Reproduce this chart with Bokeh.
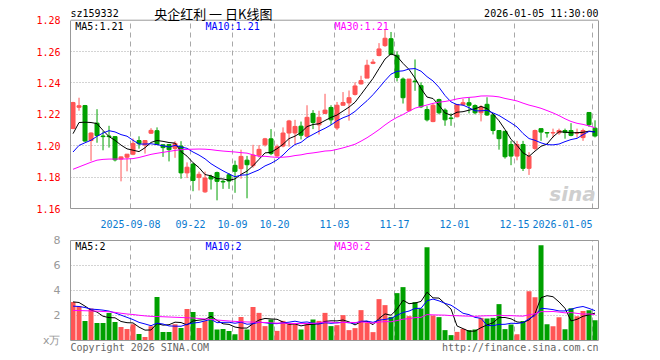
from bokeh.plotting import figure
from bokeh.models import (Range1d, FixedTicker, Grid, Label, ColumnDataSource, LinearAxis,
                          NumeralTickFormatter, Span)
from bokeh.layouts import column
from bokeh.embed import file_html
from bokeh.resources import INLINE

# ---------------- data ----------------
opens = [1.2110, 1.2245, 1.2256, 1.2033, 1.2144, 1.2062, 1.2062, 1.2058, 1.1915, 1.1927,
         1.1946, 1.2033, 1.2004, 1.2080, 1.2096, 1.2006, 1.2008, 1.1983, 1.1998, 1.1827,
         1.1883, 1.1797, 1.1706, 1.1804, 1.1829, 1.1773, 1.1815, 1.1875, 1.1854, 1.1908,
         1.1873, 1.1940, 1.2006, 1.2044, 1.1935, 1.1998, 1.2081, 1.2081, 1.2125, 1.2060,
         1.2206, 1.2133, 1.2206, 1.2244, 1.2113, 1.2258, 1.2273, 1.2327, 1.2394, 1.2431,
         1.2525, 1.2575, 1.2638, 1.2682, 1.2577, 1.2425, 1.2223, 1.2412, 1.2383, 1.2231,
         1.2154, 1.2294, 1.2227, 1.2177, 1.2185, 1.2262, 1.2274, 1.2256, 1.2210, 1.2264,
         1.2196, 1.2097, 1.2092, 1.2008, 1.1934, 1.2008, 1.1856, 1.1983, 1.2109, 1.2084,
         1.2081, 1.2082, 1.2097, 1.2097, 1.2080, 1.2052, 1.2212, 1.2112]
highs = [1.2280, 1.2306, 1.2260, 1.2085, 1.2233, 1.2092, 1.2127, 1.2062, 1.1932, 1.1948,
         1.2046, 1.2060, 1.2036, 1.2112, 1.2117, 1.2008, 1.2010, 1.2029, 1.2029, 1.1894,
         1.1890, 1.1835, 1.1835, 1.1815, 1.1835, 1.1783, 1.1825, 1.1905, 1.1975, 1.1935,
         1.2006, 1.2004, 1.2050, 1.2106, 1.2008, 1.2117, 1.2165, 1.2165, 1.2154, 1.2258,
         1.2227, 1.2223, 1.2331, 1.2258, 1.2279, 1.2342, 1.2352, 1.2404, 1.2446, 1.2548,
         1.2552, 1.2654, 1.2740, 1.2725, 1.2602, 1.2435, 1.2425, 1.2550, 1.2404, 1.2252,
         1.2269, 1.2300, 1.2238, 1.2206, 1.2265, 1.2299, 1.2309, 1.2264, 1.2258, 1.2309,
         1.2206, 1.2097, 1.2092, 1.2031, 1.2031, 1.2031, 1.1959, 1.2103, 1.2109, 1.2087,
         1.2109, 1.2109, 1.2109, 1.2144, 1.2109, 1.2109, 1.2215, 1.2162]
lows = [1.2105, 1.2223, 1.2025, 1.1904, 1.2019, 1.1971, 1.1988, 1.1900, 1.1773, 1.1837,
        1.1940, 1.1981, 1.1950, 1.2075, 1.2005, 1.1929, 1.1900, 1.1923, 1.1790, 1.1794,
        1.1710, 1.1715, 1.1700, 1.1721, 1.1652, 1.1725, 1.1725, 1.1700, 1.1790, 1.1665,
        1.1860, 1.1925, 1.1995, 1.1940, 1.1930, 1.1990, 1.1994, 1.2008, 1.2040, 1.2050,
        1.2106, 1.2071, 1.2202, 1.2133, 1.2100, 1.2256, 1.2160, 1.2320, 1.2390, 1.2431,
        1.2520, 1.2570, 1.2630, 1.2578, 1.2410, 1.2269, 1.2220, 1.2350, 1.2240, 1.2155,
        1.2150, 1.2200, 1.2127, 1.2127, 1.2180, 1.2255, 1.2206, 1.2200, 1.2155, 1.2190,
        1.2072, 1.1975, 1.1918, 1.1876, 1.1907, 1.1839, 1.1814, 1.1970, 1.2031, 1.2052,
        1.2052, 1.2070, 1.2045, 1.2060, 1.2052, 1.2031, 1.2120, 1.2053]
closes = [1.2275, 1.2255, 1.2030, 1.2081, 1.2065, 1.2058, 1.2058, 1.1910, 1.1929, 1.1946,
          1.2015, 1.2013, 1.2033, 1.2098, 1.2008, 1.1988, 1.1975, 1.2015, 1.1827, 1.1863,
          1.1779, 1.1818, 1.1794, 1.1788, 1.1773, 1.1769, 1.1775, 1.1837, 1.1932, 1.1879,
          1.1940, 1.1977, 1.2044, 1.1950, 1.1994, 1.2081, 1.2158, 1.2123, 1.2067, 1.2181,
          1.2148, 1.2181, 1.2227, 1.2165, 1.2258, 1.2275, 1.2306, 1.2381, 1.2415, 1.2513,
          1.2533, 1.2617, 1.2685, 1.2581, 1.2435, 1.2306, 1.2425, 1.2408, 1.2248, 1.2165,
          1.2258, 1.2210, 1.2165, 1.2173, 1.2263, 1.2274, 1.2258, 1.2210, 1.2247, 1.2196,
          1.2097, 1.2045, 1.1930, 1.1934, 1.2008, 1.1856, 1.1934, 1.2097, 1.2087, 1.2081,
          1.2084, 1.2097, 1.2084, 1.2066, 1.2084, 1.2097, 1.2134, 1.2062]
volumes = [3.09, 2.75, 1.57, 2.56, 1.41, 1.41, 2.21, 1.49, 1.09, 0.93,
           1.31, 0.53, 0.29, 1.15, 3.49, 0.69, 0.69, 1.31, 1.01, 2.53,
           2.29, 1.01, 1.57, 2.29, 0.88, 0.93, 0.77, 0.51, 1.89, 0.88,
           2.69, 2.21, 1.15, 1.68, 0.77, 1.57, 1.31, 1.31, 0.88, 1.28,
           1.68, 1.57, 2.21, 1.15, 1.23, 2.03, 0.83, 0.99, 2.43, 1.41,
           0.67, 3.31, 2.83, 1.89, 3.79, 4.27, 1.95, 3.07, 2.56, 7.47,
           2.00, 1.87, 0.83, 0.43, 0.69, 0.93, 0.83, 0.88, 1.81, 1.76,
           1.81, 2.91, 0.91, 1.28, 0.51, 1.57, 3.95, 3.47, 7.63, 1.31,
           1.15, 1.87, 0.91, 2.59, 1.95, 2.37, 2.43, 1.63]

# moving-average values before a full window is available
ma5_head = [1.2077, 1.2148, 1.2150, 1.2148]
ma10_head = [1.1960, 1.2002, 1.2019, 1.2035, 1.2060, 1.2081, 1.2096, 1.2088, 1.2071]
ma30_head = [1.1850, 1.1865, 1.1880, 1.1895, 1.1908, 1.1913, 1.1915, 1.1915, 1.1915, 1.1916,
             1.1918, 1.1925, 1.1935, 1.1945, 1.1952, 1.1958, 1.1964, 1.1970, 1.1975, 1.1977,
             1.1978, 1.1979, 1.1978, 1.1975, 1.1970, 1.1966, 1.1963, 1.1960, 1.1956]
vma5_head = [3.09, 3.04, 2.75, 2.43]
vma10_head = [2.75, 2.72, 2.64, 2.51, 2.48, 2.43, 2.35, 2.21, 2.03]
vma30_head = [2.40, 2.40, 2.38, 2.37, 2.35, 2.32, 2.30, 2.25, 2.18, 2.12,
              2.08, 2.02, 1.97, 1.93, 1.92, 1.90, 1.88, 1.86, 1.84, 1.82,
              1.80, 1.76, 1.72, 1.68, 1.64, 1.60, 1.56, 1.53, 1.50]

tick_days = [10, 20, 27, 34, 44, 54, 64, 74, 87]
tick_labels = ["2025-09-08", "09-22", "10-09", "10-20", "11-03", "11-17", "12-01", "12-15", "2026-01-05"]
price_ticks = [1.16, 1.18, 1.20, 1.22, 1.24, 1.26, 1.28]
vol_ticks = [0, 2, 4, 6, 8]
vol_unit = "x万"

symbol = "sz159332"
title_text = "央企红利 一 日K线图"
stamp = "2026-01-05 11:30:00"
copyright_text = "Copyright 2026 SINA.COM"
site_text = "http://finance.sina.com.cn"

# ---------------- helpers ----------------
def moving(vals, n, head):
    out = list(head)
    for i in range(n - 1, len(vals)):
        out.append(sum(vals[i - n + 1:i + 1]) / n)
    return out

N = len(closes)
xs = [i + 0.42 for i in range(N)]
RED = "#ff5555"
GREEN = "#00a000"
colors = [RED if c >= o else GREEN for o, c in zip(opens, closes)]

ma5 = moving(closes, 5, ma5_head)
ma10 = moving(closes, 10, ma10_head)
ma30 = moving(closes, 30, ma30_head)
vma5 = moving(volumes, 5, vma5_head)
vma10 = moving(volumes, 10, vma10_head)
vma30 = moving(volumes, 30, vma30_head)

src = ColumnDataSource(dict(
    x=xs, o=opens, h=highs, l=lows, c=closes, v=volumes, color=colors,
    top=[max(o, c) for o, c in zip(opens, closes)],
    bot=[min(o, c) for o, c in zip(opens, closes)],
    ma5=ma5, ma10=ma10, ma30=ma30, vma5=vma5, vma10=vma10, vma30=vma30,
))

MONO = "DejaVu Sans Mono"
GRID_C = "#a8a8a8"
BORDER_C = "#999999"

def lab(fig, x, y, text, color="black", size="10px", font=MONO, align="left", style="normal"):
    fig.add_layout(Label(x=x, y=y, text=text, text_color=color, text_font_size=size,
                         text_font=font, text_align=align, text_baseline="middle",
                         text_font_style=style))

def style_axis(ax, color, font, size):
    ax.axis_line_color = BORDER_C
    ax.major_tick_line_color = None
    ax.minor_tick_line_color = None
    ax.major_label_text_color = color
    ax.major_label_text_font = font
    ax.major_label_text_font_size = size
    ax.major_label_standoff = 4

def border_axis(fig, side, bounds=None):
    ax = LinearAxis(ticker=FixedTicker(ticks=[]), axis_line_color=BORDER_C,
                    major_tick_line_color=None, minor_tick_line_color=None,
                    major_label_text_font_size="0px")
    if bounds is not None:
        ax.bounds = bounds
    fig.add_layout(ax, side)

# ---------------- price panel ----------------
P_LO, P_HI = price_ticks[0], price_ticks[-1]
px_unit = (P_HI - P_LO) / 191.0          # price per pixel of the 191 px box
xr = Range1d(0, 88)
p = figure(width=660, height=230, x_range=xr, y_range=Range1d(P_LO, P_HI + 20 * px_unit),
           output_backend="svg", toolbar_location=None,
           min_border_left=70, min_border_right=62, min_border_top=0, min_border_bottom=19)
p.outline_line_color = None
p.xgrid.visible = False
p.ygrid.visible = False
p.add_layout(Grid(dimension=1, ticker=FixedTicker(ticks=price_ticks[1:-1]),
                  grid_line_color=GRID_C, grid_line_dash="1 2"))
p.segment(x0=tick_days, y0=[P_LO] * len(tick_days), x1=tick_days, y1=[P_HI] * len(tick_days),
          line_color=GRID_C, line_dash="5 4", line_width=1)
p.add_layout(Span(location=P_HI, dimension="width", line_color=BORDER_C, line_width=1))

p.segment(x0="x", y0="h", x1="x", y1="l", color="color", line_width=1, source=src)
p.vbar(x="x", top="top", bottom="bot", width=4 / 6, fill_color="color",
       line_color="color", line_width=1, source=src)
p.line("x", "ma5", color="black", line_width=1, source=src)
p.line("x", "ma10", color="#0000ff", line_width=1, source=src)
p.line("x", "ma30", color="#ff00ff", line_width=1, source=src)

yax = p.yaxis[0]
yax.ticker = FixedTicker(ticks=price_ticks)
yax.formatter = NumeralTickFormatter(format="0.00")
yax.bounds = (P_LO, P_HI)
style_axis(yax, "#ff0000", MONO, "10px")
border_axis(p, "right", (P_LO, P_HI))

label_pos = tick_days[:-1] + [82]
xax = p.xaxis[0]
xax.ticker = FixedTicker(ticks=label_pos)
xax.major_label_overrides = {t: s for t, s in zip(label_pos, tick_labels)}
style_axis(xax, "#0a7ad0", MONO, "10px")
xax.major_label_standoff = 5

lab(p, 0.0, P_HI + 7 * px_unit, symbol)
lab(p, 23.8, P_HI + 7 * px_unit, title_text, font="Noto Sans CJK SC", size="13px", align="center")
lab(p, 88.0, P_HI + 7 * px_unit, stamp, align="right")
lab(p, 0.8, P_HI - 6 * px_unit, f"MA5:{ma5[-1]:.2f}", color="black")
lab(p, 22.5, P_HI - 6 * px_unit, f"MA10:{ma10[-1]:.2f}", color="#0000ff")
lab(p, 44.0, P_HI - 6 * px_unit, f"MA30:{ma30[-1]:.2f}", color="#ff00ff")
lab(p, 79.8, P_HI - 176 * px_unit, "sina", color="#cfcfcf", size="20px", font="DejaVu Sans",
    style="bold italic")

# ---------------- volume panel ----------------
V_LO, V_HI = vol_ticks[0], vol_ticks[-1]
v_unit = (V_HI - V_LO) / 100.0
q = figure(width=660, height=130, x_range=xr, y_range=Range1d(V_LO - 20 * v_unit, V_HI),
           output_backend="svg", toolbar_location=None, x_axis_location="above",
           min_border_left=70, min_border_right=62, min_border_top=10, min_border_bottom=0)
q.outline_line_color = None
q.xgrid.visible = False
q.ygrid.visible = False
qx = q.xaxis[0]
qx.ticker = FixedTicker(ticks=[])
qx.axis_line_color = BORDER_C
qx.major_tick_line_color = None
qx.minor_tick_line_color = None
qx.major_label_text_font_size = "0px"
q.add_layout(Grid(dimension=1, ticker=FixedTicker(ticks=vol_ticks[1:-1]),
                  grid_line_color=GRID_C, grid_line_dash="1 2"))
q.segment(x0=tick_days, y0=[V_LO] * len(tick_days), x1=tick_days, y1=[V_HI] * len(tick_days),
          line_color=GRID_C, line_dash="5 4", line_width=1)
q.vbar(x="x", top="v", bottom=V_LO, width=5 / 6, fill_color="color", line_color=None, source=src)
q.add_layout(Span(location=V_LO, dimension="width", line_color=BORDER_C, line_width=1))
q.line("x", "vma5", color="black", line_width=1, source=src)
q.line("x", "vma10", color="#0000ff", line_width=1, source=src)
q.line("x", "vma30", color="#ff00ff", line_width=1, source=src)

vax = q.yaxis[0]
vax.ticker = FixedTicker(ticks=vol_ticks)
vax.major_label_overrides = {0: vol_unit}
vax.bounds = (V_LO, V_HI)
style_axis(vax, "#999999", "DejaVu Sans", "11px")
border_axis(q, "right", (V_LO, V_HI))

lab(q, 0.8, V_HI - 6 * v_unit, f"MA5:{vma5[-1]:.0f}", color="black")
lab(q, 22.5, V_HI - 6 * v_unit, f"MA10:{vma10[-1]:.0f}", color="#0000ff")
lab(q, 44.0, V_HI - 6 * v_unit, f"MA30:{vma30[-1]:.0f}", color="#ff00ff")
lab(q, 0.0, V_LO - 7 * v_unit, copyright_text, color="#666666")
lab(q, 88.0, V_LO - 7 * v_unit, site_text, color="#666666", align="right")

layout = column(p, q, spacing=0)
open("out.html", "w").write(file_html(layout, INLINE))
